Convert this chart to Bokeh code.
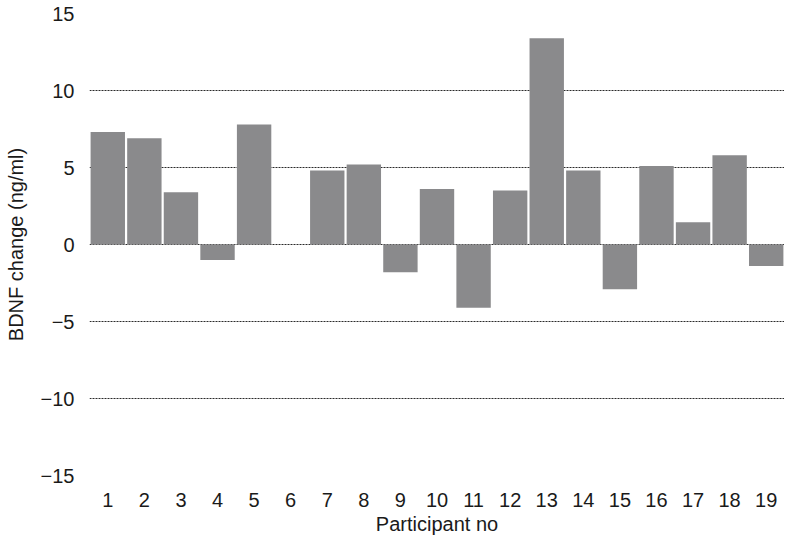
from bokeh.plotting import figure
from bokeh.models import FactorRange, Range1d, FixedTicker, ColumnDataSource
from bokeh.embed import file_html
from bokeh.resources import INLINE

participants = [str(i) for i in range(1, 20)]
bdnf_change = [7.3, 6.9, 3.4, -1.0, 7.8, 0.0, 4.8, 5.2, -1.8, 3.6,
               -4.1, 3.5, 13.4, 4.8, -2.9, 5.1, 1.45, 5.8, -1.4]
y_ticks = [-15, -10, -5, 0, 5, 10, 15]
y_tick_labels = ["\u221215", "\u221210", "\u22125", "0", "5", "10", "15"]

FONT = "Liberation Sans"

src = ColumnDataSource(dict(x=participants, top=bdnf_change))

p = figure(width=784, height=540, output_backend="svg", toolbar_location=None,
           x_range=FactorRange(*participants, range_padding=0),
           y_range=Range1d(-15, 15),
           min_border_left=89, min_border_right=0, min_border_top=13, min_border_bottom=65)
p.outline_line_color = None
p.background_fill_color = "white"
p.border_fill_color = "white"

p.vbar(x="x", top="top", bottom=0, width=0.94, source=src,
       fill_color="#8a8a8c", line_color=None)

p.yaxis.ticker = FixedTicker(ticks=y_ticks)
p.yaxis.major_label_overrides = {t: l for t, l in zip(y_ticks, y_tick_labels)}
p.ygrid.ticker = FixedTicker(ticks=[-10, -5, 0, 5, 10, 15])
p.ygrid.grid_line_color = "#2a2a2a"
p.ygrid.grid_line_dash = "2 1"
p.ygrid.grid_line_width = 1
p.xgrid.grid_line_color = None

for ax in (p.xaxis, p.yaxis):
    ax.axis_line_color = None
    ax.major_tick_line_color = None
    ax.minor_tick_line_color = None
    ax.major_tick_out = 0
    ax.major_tick_in = 0
    ax.major_label_text_font = FONT
    ax.major_label_text_font_size = "20px"
    ax.major_label_text_color = "#1a1a1a"
    ax.axis_label_text_font = FONT
    ax.axis_label_text_font_size = "20px"
    ax.axis_label_text_font_style = "normal"
    ax.axis_label_text_color = "#1a1a1a"

p.yaxis.axis_label = "BDNF change (ng/ml)"
p.yaxis.major_label_standoff = 15
p.yaxis.axis_label_standoff = 11
p.xaxis.axis_label = "Participant no"
p.xaxis.major_label_standoff = 17
p.xaxis.axis_label_standoff = 3

open("out.html", "w").write(file_html(p, INLINE))
